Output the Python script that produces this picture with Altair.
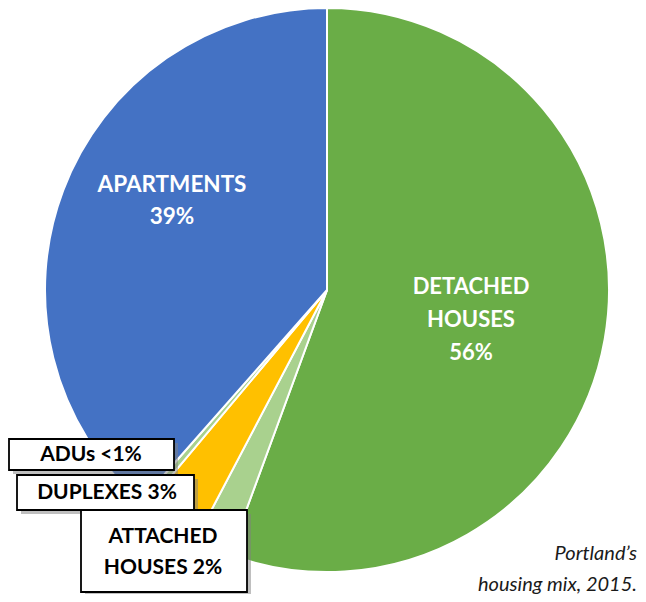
import altair as alt
import pandas as pd

# ---- data ----
categories = ["Detached houses", "Attached houses", "Duplexes", "ADUs", "Apartments"]
shares = [55.6, 2.1, 3.4, 0.4, 38.5]
colors = ["#6AAD47", "#A9D18E", "#FFC000", "#A9D18E", "#4472C4"]

inner_labels = [["DETACHED", "HOUSES", "56%"], ["APARTMENTS", "39%"]]
callout_labels = [["ADUs  <1%"], ["DUPLEXES 3%"], ["ATTACHED", "HOUSES 2%"]]
caption = ["Portland\u2019s", "housing mix, 2015."]

df = pd.DataFrame({"category": categories, "share": shares, "idx": list(range(len(categories)))})
one = pd.DataFrame({"k": [0]})

FONT = "Lato"
CX, CY, R = 319, 282, 282
W, H = 630, 586

pie = alt.Chart(df).mark_arc(outerRadius=R, stroke="white", strokeWidth=2).encode(
    theta=alt.Theta("share:Q", stack=True),
    color=alt.Color("category:N", scale=alt.Scale(domain=categories, range=colors), legend=None),
    order=alt.Order("idx:Q"),
    x=alt.value(CX),
    y=alt.value(CY),
)

layers = [pie]

def text_layer(txt, x, y, size=22, color="white", weight="bold", style="normal", align="center", lh=33):
    return alt.Chart(one).mark_text(
        text=txt, font=FONT, fontSize=size, fontWeight=weight, fontStyle=style,
        color=color, align=align, baseline="middle", lineHeight=lh,
    ).encode(x=alt.value(x), y=alt.value(y))

# inner labels (y = centre of first line)
layers.append(text_layer(inner_labels[0], 463, 279))
layers.append(text_layer(inner_labels[1], 164, 177, size=22.5, lh=32))

# callout boxes
boxes = [(1, 166, 431, 462), (9, 186, 467, 502), (73, 239, 502, 584)]
label_pos = [(83, 447), (99, 485), (155, 529)]
for (x1, x2, y1, y2), lab, (tx, ty) in zip(boxes, callout_labels, label_pos):
    layers.append(alt.Chart(one).mark_rect(color="#7f7f7f", opacity=0.5).encode(
        x=alt.value(x1 + 4), x2=alt.value(x2 + 4), y=alt.value(y1 + 4), y2=alt.value(min(y2 + 4, H))))
    layers.append(alt.Chart(one).mark_rect(fill="white", stroke="black", strokeWidth=1.8).encode(
        x=alt.value(x1), x2=alt.value(x2), y=alt.value(y1), y2=alt.value(y2)))
    layers.append(text_layer(lab, tx, ty, size=21, color="black", lh=31))

# caption
layers.append(text_layer(caption[0], W - 1, 546, size=20, color="#1a1a1a", weight="normal", style="italic", align="right"))
layers.append(text_layer(caption[1], W - 1, 577, size=20, color="#1a1a1a", weight="normal", style="italic", align="right"))

chart = alt.layer(*layers).properties(
    width=W, height=H, padding=0,
    autosize=alt.AutoSizeParams(type="none"),
).configure_view(stroke=None)

chart.save("out.html", embed_options={"renderer": "svg", "actions": False})
